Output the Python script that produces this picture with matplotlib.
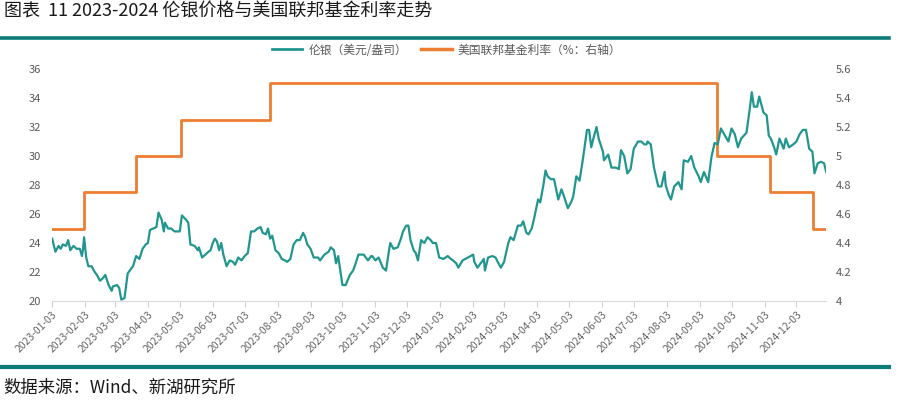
import pandas as pd
import numpy as np
import matplotlib
matplotlib.use("Agg")
import matplotlib.pyplot as plt
import matplotlib.dates as mdates
from matplotlib.lines import Line2D

plt.rcParams['font.family'] = ['Noto Sans CJK SC', 'DejaVu Sans']

# 伦银价格（美元/盎司）
silver_dates = [
    "2023-01-03", "2023-01-06", "2023-01-09", "2023-01-11", "2023-01-13", "2023-01-16", "2023-01-18",
    "2023-01-20", "2023-01-23", "2023-01-26", "2023-01-29", "2023-01-31", "2023-02-01", "2023-02-02",
    "2023-02-04", "2023-02-06", "2023-02-09", "2023-02-12", "2023-02-14", "2023-02-17", "2023-02-20",
    "2023-02-22", "2023-02-25", "2023-02-28", "2023-03-01", "2023-03-05", "2023-03-07", "2023-03-09",
    "2023-03-12", "2023-03-15", "2023-03-17", "2023-03-20", "2023-03-23", "2023-03-26", "2023-03-29",
    "2023-04-01", "2023-04-03", "2023-04-05", "2023-04-08", "2023-04-11", "2023-04-13", "2023-04-16",
    "2023-04-18", "2023-04-19", "2023-04-22", "2023-04-25", "2023-04-28", "2023-05-03", "2023-05-05",
    "2023-05-09", "2023-05-11", "2023-05-13", "2023-05-17", "2023-05-20", "2023-05-21", "2023-05-24",
    "2023-05-27", "2023-05-30", "2023-06-01", "2023-06-03", "2023-06-05", "2023-06-07", "2023-06-09",
    "2023-06-11", "2023-06-13", "2023-06-16", "2023-06-19", "2023-06-22", "2023-06-24", "2023-06-27",
    "2023-06-30", "2023-07-03", "2023-07-06", "2023-07-09", "2023-07-12", "2023-07-15", "2023-07-18",
    "2023-07-20", "2023-07-23", "2023-07-25", "2023-07-27", "2023-07-29", "2023-08-01", "2023-08-04",
    "2023-08-07", "2023-08-10", "2023-08-12", "2023-08-15", "2023-08-18", "2023-08-21", "2023-08-24",
    "2023-08-27", "2023-08-29", "2023-08-31", "2023-09-03", "2023-09-06", "2023-09-10", "2023-09-12",
    "2023-09-16", "2023-09-20", "2023-09-22", "2023-09-25", "2023-09-27", "2023-09-29", "2023-10-03",
    "2023-10-06", "2023-10-10", "2023-10-13", "2023-10-15", "2023-10-18", "2023-10-23", "2023-10-27",
    "2023-10-30", "2023-10-31", "2023-11-03", "2023-11-06", "2023-11-10", "2023-11-13", "2023-11-16",
    "2023-11-17", "2023-11-20", "2023-11-24", "2023-11-27", "2023-11-29", "2023-12-02", "2023-12-04",
    "2023-12-06", "2023-12-09", "2023-12-11", "2023-12-13", "2023-12-16", "2023-12-19", "2023-12-22",
    "2023-12-25", "2023-12-27", "2023-12-30", "2024-01-02", "2024-01-06", "2024-01-10", "2024-01-13",
    "2024-01-15", "2024-01-18", "2024-01-20", "2024-01-24", "2024-01-29", "2024-02-03", "2024-02-04",
    "2024-02-07", "2024-02-10", "2024-02-13", "2024-02-14", "2024-02-17", "2024-02-21", "2024-02-24",
    "2024-02-26", "2024-02-29", "2024-03-03", "2024-03-07", "2024-03-09", "2024-03-12", "2024-03-16",
    "2024-03-19", "2024-03-21", "2024-03-24", "2024-03-26", "2024-03-29", "2024-03-31", "2024-04-04",
    "2024-04-06", "2024-04-09", "2024-04-11", "2024-04-13", "2024-04-16", "2024-04-19", "2024-04-23",
    "2024-04-26", "2024-04-28", "2024-05-02", "2024-05-05", "2024-05-07", "2024-05-10", "2024-05-13",
    "2024-05-16", "2024-05-20", "2024-05-22", "2024-05-24", "2024-05-26", "2024-05-29", "2024-05-31",
    "2024-06-04", "2024-06-05", "2024-06-09", "2024-06-12", "2024-06-16", "2024-06-19", "2024-06-21",
    "2024-06-24", "2024-06-27", "2024-06-30", "2024-07-03", "2024-07-07", "2024-07-10", "2024-07-13",
    "2024-07-15", "2024-07-16", "2024-07-19", "2024-07-22", "2024-07-26", "2024-07-29", "2024-08-01",
    "2024-08-02", "2024-08-05", "2024-08-07", "2024-08-10", "2024-08-14", "2024-08-17", "2024-08-19",
    "2024-08-23", "2024-08-26", "2024-08-29", "2024-09-02", "2024-09-04", "2024-09-07", "2024-09-11",
    "2024-09-14", "2024-09-17", "2024-09-20", "2024-09-23", "2024-09-26", "2024-09-30", "2024-10-03",
    "2024-10-06", "2024-10-09", "2024-10-12", "2024-10-17", "2024-10-20", "2024-10-22", "2024-10-24",
    "2024-10-27", "2024-10-29", "2024-11-02", "2024-11-05", "2024-11-07", "2024-11-09", "2024-11-12",
    "2024-11-14", "2024-11-17", "2024-11-21", "2024-11-23", "2024-11-26", "2024-11-30", "2024-12-03",
    "2024-12-06", "2024-12-09", "2024-12-12", "2024-12-15", "2024-12-18", "2024-12-20", "2024-12-23",
    "2024-12-26", "2024-12-29", "2024-12-31",
]
silver_price = [
    24.3, 23.4, 23.8, 23.6, 23.9, 23.8, 24.2,
    23.5, 23.8, 23.6, 23.6, 23.1, 23.6, 24.4,
    23.0, 22.4, 22.4, 22.0, 21.8, 21.4, 21.6,
    21.8, 21.1, 20.7, 21.0, 21.1, 20.9, 20.1,
    20.2, 21.9, 22.1, 22.4, 23.1, 22.9, 23.6,
    23.9, 24.0, 24.9, 25.0, 25.1, 26.1, 25.6,
    24.8, 25.4, 25.0, 25.0, 24.8, 24.8, 25.9,
    25.6, 25.4, 23.9, 23.8, 23.5, 23.7, 23.0,
    23.2, 23.4, 23.5, 24.0, 24.3, 24.1, 23.5,
    24.0, 23.2, 22.4, 22.8, 22.7, 22.5, 23.0,
    22.8, 23.1, 23.3, 24.8, 24.8, 25.0, 25.1,
    24.7, 24.6, 25.0, 24.3, 24.5, 23.5, 23.3,
    22.9, 22.8, 22.7, 22.9, 23.9, 24.2, 24.2,
    24.7, 24.4, 23.9, 23.6, 23.0, 23.0, 22.8,
    23.2, 23.4, 23.7, 23.5, 22.6, 23.1, 21.1,
    21.1, 21.8, 22.1, 22.5, 23.2, 23.2, 22.8,
    23.1, 23.1, 22.8, 23.0, 22.3, 22.1, 23.6,
    24.0, 23.6, 23.7, 24.3, 24.8, 25.2, 25.2,
    24.2, 23.5, 23.3, 22.8, 24.2, 24.0, 24.4,
    24.2, 24.0, 24.0, 23.0, 22.9, 23.1, 22.9,
    22.8, 22.6, 22.3, 22.8, 23.0, 23.2, 22.7,
    22.3, 22.6, 22.9, 22.1, 23.0, 23.1, 23.0,
    22.7, 22.3, 22.7, 24.0, 24.4, 24.2, 25.2,
    25.2, 25.5, 24.7, 24.6, 25.0, 25.6, 27.0,
    26.8, 28.0, 29.0, 28.6, 28.4, 28.4, 27.0,
    27.7, 27.3, 26.4, 26.8, 27.2, 28.6, 28.3,
    29.7, 31.8, 31.8, 30.6, 31.2, 32.0, 31.2,
    30.3, 29.7, 30.1, 29.2, 29.2, 29.1, 30.4,
    30.0, 28.8, 29.1, 30.5, 31.0, 31.0, 30.8,
    30.8, 31.0, 30.8, 29.2, 27.9, 27.9, 28.9,
    28.0, 27.3, 27.0, 27.9, 28.2, 27.7, 29.7,
    29.6, 30.0, 29.2, 28.6, 28.2, 28.9, 28.2,
    29.9, 30.9, 30.8, 31.9, 31.5, 31.0, 31.9,
    31.5, 30.6, 31.2, 31.6, 33.2, 34.4, 33.4,
    33.4, 34.1, 33.0, 32.8, 31.4, 31.2, 30.6,
    30.1, 31.2, 30.5, 31.2, 30.6, 30.8, 31.0,
    31.5, 31.8, 31.8, 30.5, 30.3, 28.8, 29.5,
    29.6, 29.5, 28.9,
]

# 美国联邦基金利率（%），阶梯变化
fed_dates = ["2023-01-03", "2023-02-02", "2023-03-23", "2023-05-04", "2023-07-27",
             "2024-09-19", "2024-11-08", "2024-12-19", "2024-12-31"]
fed_rate = [4.5, 4.75, 5.0, 5.25, 5.5, 5.0, 4.75, 4.5, 4.5]

# x 轴刻度：每月 3 日
tick_dates = pd.date_range("2023-01-01", "2024-12-01", freq="MS") + pd.Timedelta(days=2)

silver_x = pd.to_datetime(silver_dates)
fed_x = pd.to_datetime(fed_dates)

teal = '#21968f'
orange = '#ed7d31'
gray = '#595959'

fig = plt.figure(figsize=(9, 4.07), dpi=100)
ax = fig.add_axes([0.058, 0.2604, 0.86, 0.5701])
ax2 = ax.twinx()

ax.plot(silver_x, silver_price, color=teal, lw=1.6, zorder=3)
ax2.plot(fed_x, fed_rate, color=orange, lw=2.0, drawstyle='steps-post')
ax.set_zorder(ax2.get_zorder() + 1)
ax.patch.set_visible(False)

ax.set_ylim(20, 36)
ax.set_yticks(np.arange(20, 37, 2))
ax2.set_ylim(4, 5.6)
ax2.set_yticks([4, 4.2, 4.4, 4.6, 4.8, 5, 5.2, 5.4, 5.6])
ax2.set_yticklabels(['4', '4.2', '4.4', '4.6', '4.8', '5', '5.2', '5.4', '5.6'])

ax.set_xlim(pd.Timestamp("2023-01-03"), pd.Timestamp("2024-12-31"))
ax.set_xticks(tick_dates)
ax.xaxis.set_major_formatter(mdates.DateFormatter('%Y-%m-%d'))
for lab in ax.get_xticklabels():
    lab.set_rotation(45)
    lab.set_ha('right')
    lab.set_rotation_mode('anchor')

for a in (ax, ax2):
    for s in ('top', 'left', 'right'):
        a.spines[s].set_visible(False)
    a.spines['bottom'].set_color('#d9d9d9')
ax2.spines['bottom'].set_visible(False)

ax.tick_params(axis='x', colors='#d0d0d0', length=4, width=0.8, labelcolor='#666666', labelsize=7.5, pad=2)
ax.tick_params(axis='y', length=0, labelcolor=gray, labelsize=8, pad=8)
ax2.tick_params(axis='y', length=0, labelcolor=gray, labelsize=8, pad=7)

# 图例
handles = [Line2D([], [], color=teal, lw=2), Line2D([], [], color=orange, lw=2.5)]
fig.legend(handles, ['伦银（美元/盎司）', '美国联邦基金利率（%：右轴）'], loc='center',
           bbox_to_anchor=(0.496, 0.877), ncol=2, frameon=False, fontsize=8.5,
           labelcolor=gray, handlelength=2.6, columnspacing=1.2, handletextpad=0.5)

# 标题、分隔线与来源
fig.text(0.004, 0.972, '图表  11 2023-2024 伦银价格与美国联邦基金利率走势', fontsize=13,
         va='center', ha='left', color='#1a1a1a')
fig.add_artist(Line2D([0, 0.988], [1 - 38 / 407, 1 - 38 / 407], color='#0e7c78', lw=2.6))
fig.add_artist(Line2D([0, 0.988], [1 - 364.5 / 407, 1 - 364.5 / 407], color='#8fd6d6', lw=0.8))
fig.add_artist(Line2D([0, 0.988], [1 - 367 / 407, 1 - 367 / 407], color='#0e7c78', lw=3.0))
fig.text(0.004, 1 - 388 / 407, '数据来源：Wind、新湖研究所', fontsize=12.5,
         va='center', ha='left', color='#1a1a1a')

fig.savefig('out.png', dpi=100)
